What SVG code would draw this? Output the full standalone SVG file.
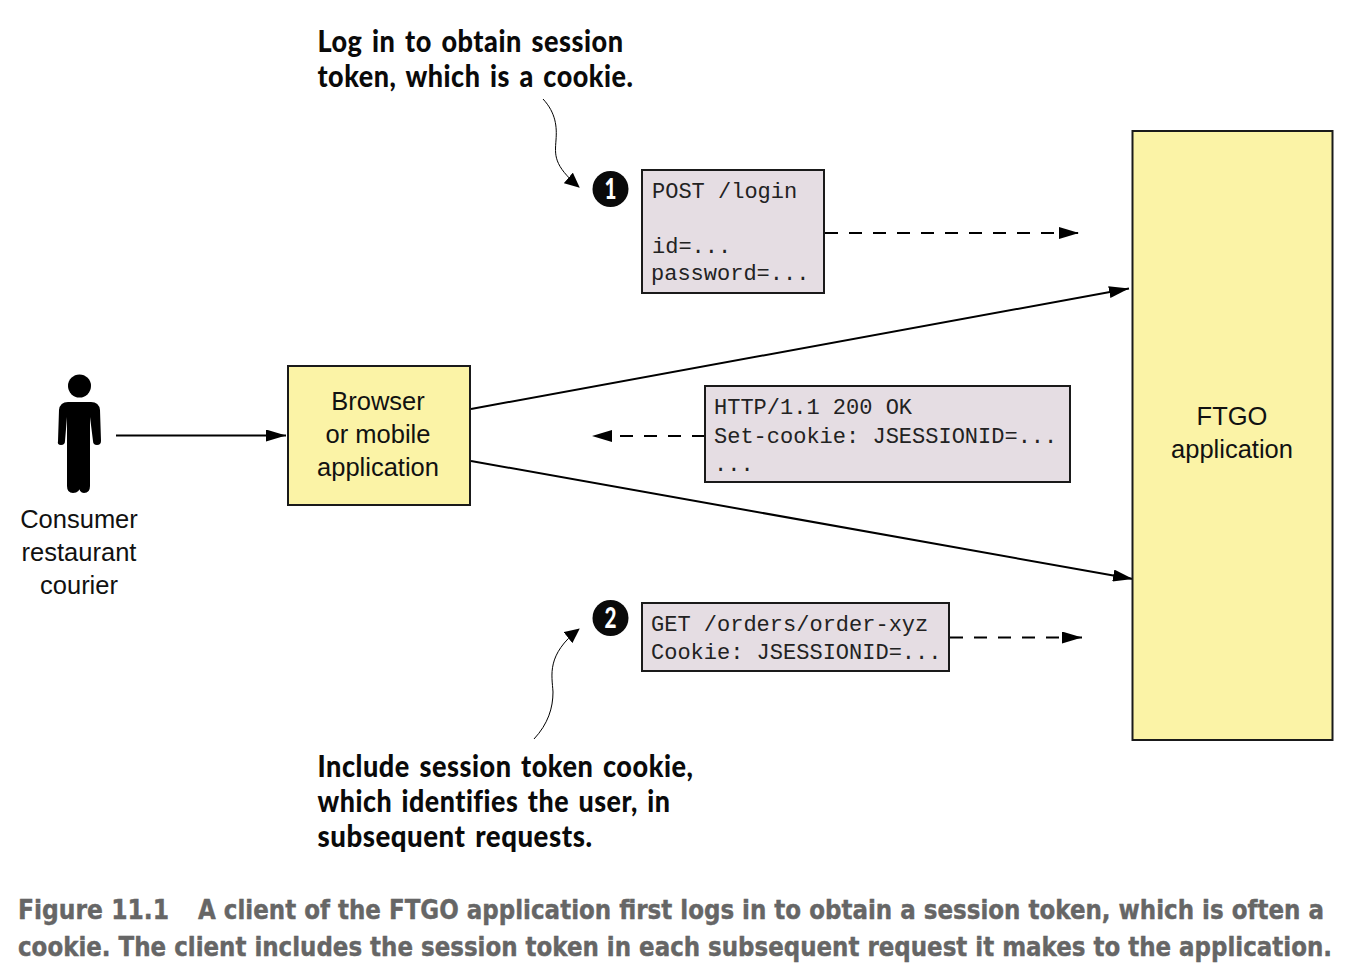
<svg xmlns="http://www.w3.org/2000/svg" width="1354" height="974" viewBox="0 0 1354 974">
<style>
.box{stroke:#1a1a1a;stroke-width:2}
.y{fill:#fbf3a6}
.p{fill:#e5dde3}
.s{font-family:"Liberation Sans",Arial,sans-serif;font-size:25.5px;fill:#111;text-anchor:middle}
.m{font-family:"Liberation Mono","Courier New",monospace;font-size:22px;fill:#222}
.a{font-family:Lato,"Open Sans",sans-serif;font-weight:900;font-size:31px;fill:#0a0a0a;font-variant-ligatures:none;word-spacing:3px;letter-spacing:.6px}
.c{font-family:"DejaVu Sans",sans-serif;font-weight:700;font-size:22px;fill:#666;stroke:#666;stroke-width:.35px}
.n{font-family:Lato,sans-serif;font-weight:900;font-size:28px;fill:#fff;text-anchor:middle}
.l{fill:none;stroke:#000;stroke-width:2}
.d{fill:none;stroke:#000;stroke-width:2;stroke-dasharray:13 11}
.w{fill:none;stroke:#000;stroke-width:1}
</style>
<defs>
<marker id="ah" markerUnits="userSpaceOnUse" markerWidth="20" markerHeight="12" refX="20" refY="6" orient="auto"><path d="M0 0L20 6L0 12Z" fill="#000"/></marker>
<marker id="wh" markerUnits="userSpaceOnUse" markerWidth="16" markerHeight="14" refX="14" refY="7" orient="auto"><path d="M0 0L15 7L0 14Z" fill="#000"/></marker>
</defs>
<rect width="1354" height="974" fill="#fff"/>
<g id="connectors">
<path class="l" d="M116 435.500H286" marker-end="url(#ah)"/>
<path class="l" d="M471 409L1129 288.500" marker-end="url(#ah)"/>
<path class="l" d="M471 461L1133 579" marker-end="url(#ah)"/>
<path class="d" d="M825 233H1079" marker-end="url(#ah)"/>
<path class="d" d="M705 436H592" marker-end="url(#ah)"/>
<path class="d" d="M950 637.500H1082" marker-end="url(#ah)"/>
<path class="w" d="M543 99C556 113 557 127 556 140C555 155 553 165 579 187" marker-end="url(#wh)"/>
<path class="w" d="M534 739C548 724 553 708 553 692C552 675 546 655 579 629" marker-end="url(#wh)"/>
</g>
<g id="actor">
<circle cx="79.500" cy="386" r="11.500" fill="#000"/>
<path d="M68 402H91Q99 402 100 410L101 441Q101 445 97 445Q93 445 93 441L90 417V486Q90 493 84 493Q79 493 79 486V449H80V486Q80 493 73 493Q67 493 67 486V417L65 441Q65 445 61 445Q57 445 58 441L59 410Q60 402 68 402Z" fill="#000"/>
<text class="s" x="79" y="528">Consumer</text>
<text class="s" x="79" y="561">restaurant</text>
<text class="s" x="79" y="594">courier</text>
</g>
<g id="browser">
<rect class="box y" x="288" y="366" width="182" height="139"/>
<text class="s" x="378" y="410">Browser</text>
<text class="s" x="378" y="443">or mobile</text>
<text class="s" x="378" y="476">application</text>
</g>
<g id="ftgo">
<rect class="box y" x="1132.500" y="131" width="200" height="609"/>
<text class="s" x="1232" y="425">FTGO</text>
<text class="s" x="1232" y="458">application</text>
</g>
<g id="login-request">
<rect class="box p" x="642" y="170" width="182" height="123"/>
<text class="m" x="652" y="198">POST /login</text>
<text class="m" x="652" y="253">id=...</text>
<text class="m" x="651" y="280">password=...</text>
</g>
<g id="login-response">
<rect class="box p" x="705" y="386" width="365" height="96"/>
<text class="m" x="714" y="414">HTTP/1.1 200 OK</text>
<text class="m" x="714" y="443">Set-cookie: JSESSIONID=...</text>
<text class="m" x="714" y="471">...</text>
</g>
<g id="orders-request">
<rect class="box p" x="642" y="603" width="307" height="68"/>
<text class="m" x="651" y="631">GET /orders/order-xyz</text>
<text class="m" x="651" y="659">Cookie: JSESSIONID=...</text>
</g>
<g id="step-1">
<circle cx="610.500" cy="189" r="18" fill="#0a0a0a"/>
<text class="n" x="610.500" y="199" textLength="12" lengthAdjust="spacingAndGlyphs">1</text>
</g>
<g id="step-2">
<circle cx="610.500" cy="618" r="18" fill="#0a0a0a"/>
<text class="n" x="610.500" y="628" textLength="12" lengthAdjust="spacingAndGlyphs">2</text>
</g>
<g id="annotations">
<text class="a" x="317.500" y="52" textLength="306" lengthAdjust="spacingAndGlyphs">Log in to obtain session</text>
<text class="a" x="317.500" y="87" textLength="316" lengthAdjust="spacingAndGlyphs">token, which is a cookie.</text>
<text class="a" x="317.500" y="777" textLength="376" lengthAdjust="spacingAndGlyphs">Include session token cookie,</text>
<text class="a" x="317.500" y="812" textLength="353" lengthAdjust="spacingAndGlyphs">which identifies the user, in</text>
<text class="a" x="317.500" y="847" textLength="275" lengthAdjust="spacingAndGlyphs">subsequent requests.</text>
</g>
<g id="caption">
<text class="c" transform="translate(18 919) scale(1 1.23)" textLength="151" lengthAdjust="spacingAndGlyphs">Figure 11.1</text>
<text class="c" transform="translate(198 919) scale(1 1.23)" textLength="1126" lengthAdjust="spacingAndGlyphs">A client of the FTGO application first logs in to obtain a session token, which is often a</text>
<text class="c" transform="translate(18 956) scale(1 1.23)" textLength="1314" lengthAdjust="spacingAndGlyphs">cookie. The client includes the session token in each subsequent request it makes to the application.</text>
</g>
</svg>
